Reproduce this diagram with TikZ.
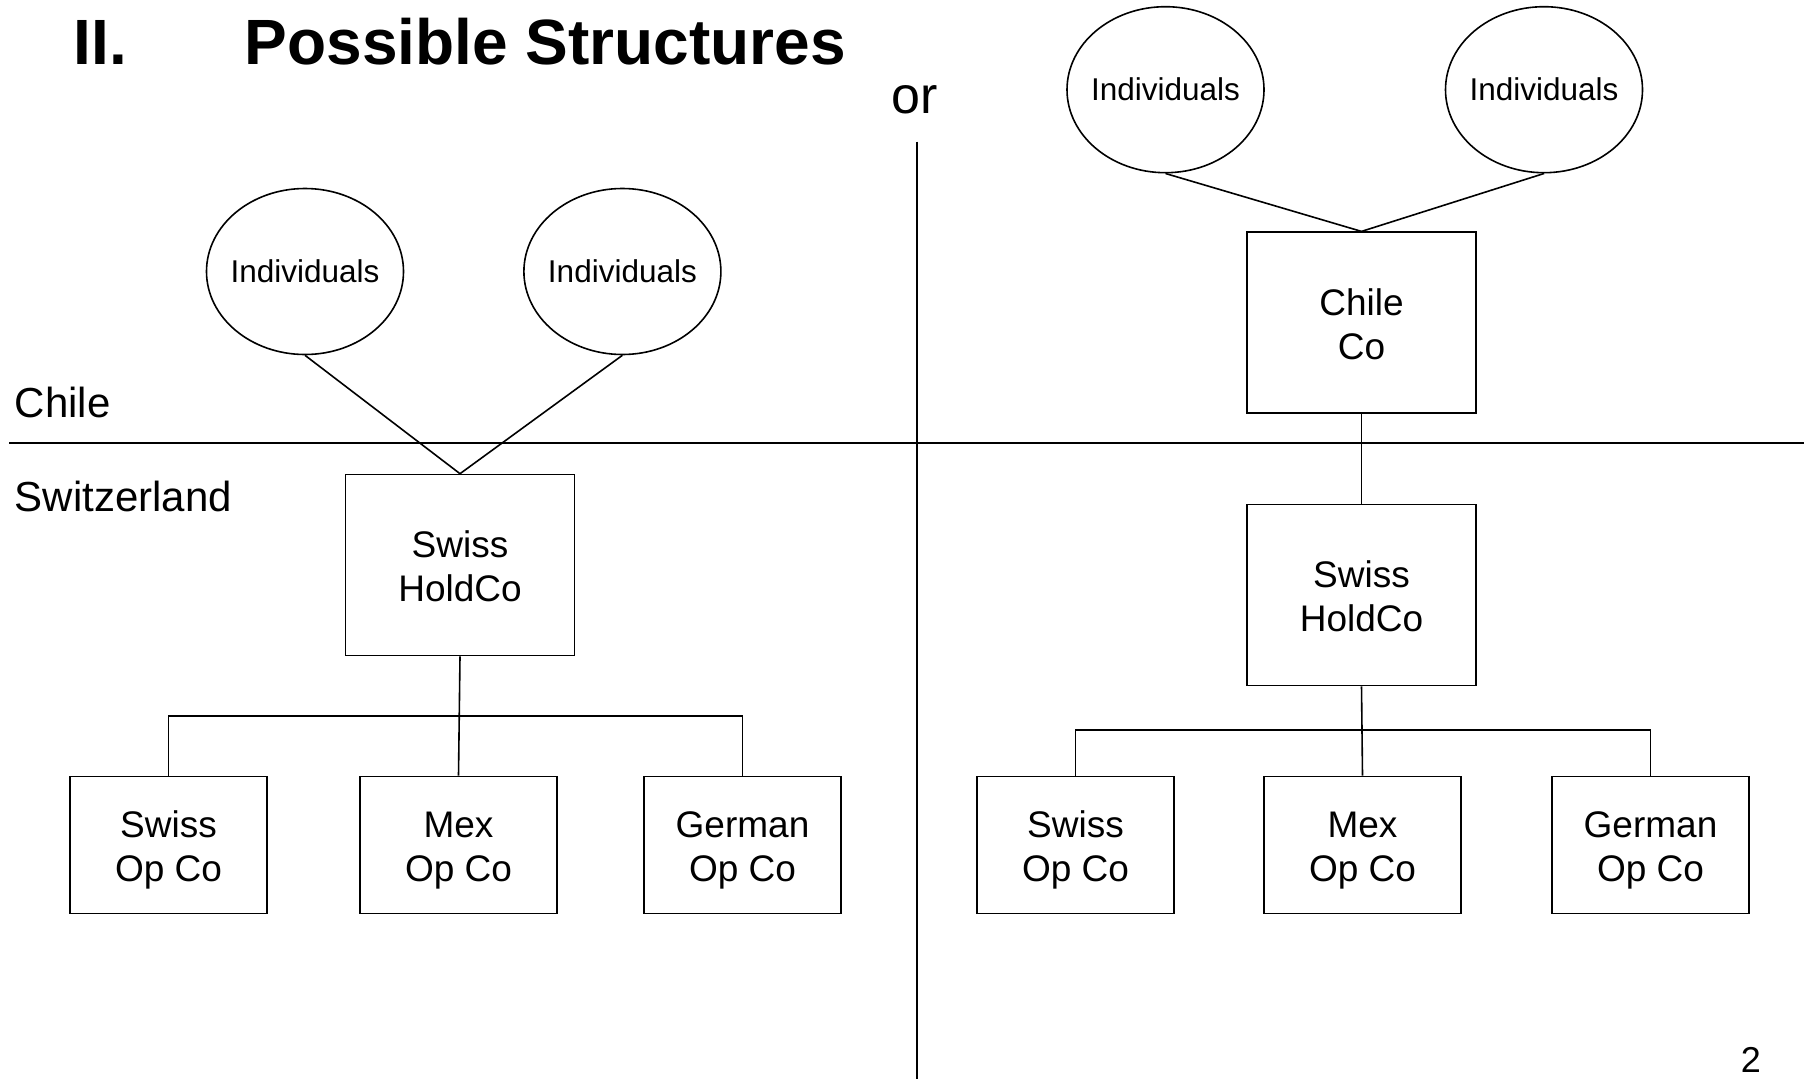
\documentclass[tikz,border=0pt]{standalone}
\usepackage{fontspec}
\setmainfont{Liberation Sans}
\usetikzlibrary{shapes.geometric}
\begin{document}
\begin{tikzpicture}[x=1pt,y=-1pt,line width=1.6pt,
  indiv/.style={draw,ellipse,inner sep=0pt,minimum width=197pt,minimum height=166pt,font=\fontsize{31.5}{36}\selectfont},
  cobox/.style={draw,rectangle,inner sep=0pt,align=center,text height=75pt,text depth=2pt,font=\fontsize{37}{44}\selectfont},
  opbox/.style={cobox,minimum width=197pt,minimum height=137pt},
  holdbox/.style={cobox,minimum width=229pt,minimum height=181pt},
  lbl/.style={inner sep=0pt,anchor=base west,font=\fontsize{42}{48}\selectfont}]
\useasboundingbox (0,0) rectangle (1804,1079);
% title
\node[inner sep=0pt,anchor=base west,font=\fontsize{64}{70}\selectfont\bfseries] (t1) at (73,64.5) {II.};
\node[inner sep=0pt,anchor=base west,font=\fontsize{64}{70}\selectfont\bfseries] (t2) at (244,64.5) {Possible Structures};
\node[inner sep=0pt,anchor=base west,font=\fontsize{52}{58}\selectfont] (or) at (891,113) {or};
% dividers
\coordinate (vt) at (917,141.5);
\coordinate (vb) at (917,1079);
\coordinate (hl) at (9,443);
\coordinate (hr) at (1804,443);
\draw (vt) -- (vb);
\draw (hl) -- (hr);
\node[lbl] (chile) at (14,417) {Chile};
\node[lbl] (swiss) at (14,511) {Switzerland};
% left structure
\node[indiv] (iL1) at (305,271.5) {\makebox[0pt]{Individuals}};
\node[indiv] (iL2) at (622.4,271.5) {\makebox[0pt]{Individuals}};
\node[holdbox] (hL) at (460,565) {Swiss\\HoldCo};
\node[opbox] (sL) at (168.5,845) {Swiss\\Op Co};
\node[opbox] (mL) at (458.5,845) {Mex\\Op Co};
\node[opbox] (gL) at (742.5,845) {German\\Op Co};
\draw (iL1.south) -- (hL.north);
\draw (iL2.south) -- (hL.north);
\draw (hL.south) -- (mL.north);
\draw (sL.north) -- ++(0,-59.8) -| (gL.north);
% right structure
\node[indiv] (iR1) at (1165.5,89.7) {\makebox[0pt]{Individuals}};
\node[indiv] (iR2) at (1544,89.7) {\makebox[0pt]{Individuals}};
\node[holdbox] (cR) at (1361.5,322.7) {Chile\\Co};
\node[holdbox] (hR) at (1361.5,595) {Swiss\\HoldCo};
\node[opbox] (sR) at (1075.5,845) {Swiss\\Op Co};
\node[opbox] (mR) at (1362.5,845) {Mex\\Op Co};
\node[opbox] (gR) at (1650.5,845) {German\\Op Co};
\draw (iR1.south) -- (cR.north);
\draw (iR2.south) -- (cR.north);
\draw (cR.south) -- (hR.north);
\draw (hR.south) -- (mR.north);
\draw (sR.north) -- ++(0,-46) -| (gR.north);
% page number
\node[inner sep=0pt,anchor=base west,font=\fontsize{36}{40}\selectfont] (pg) at (1740,1072) {2};
\end{tikzpicture}
\end{document}
